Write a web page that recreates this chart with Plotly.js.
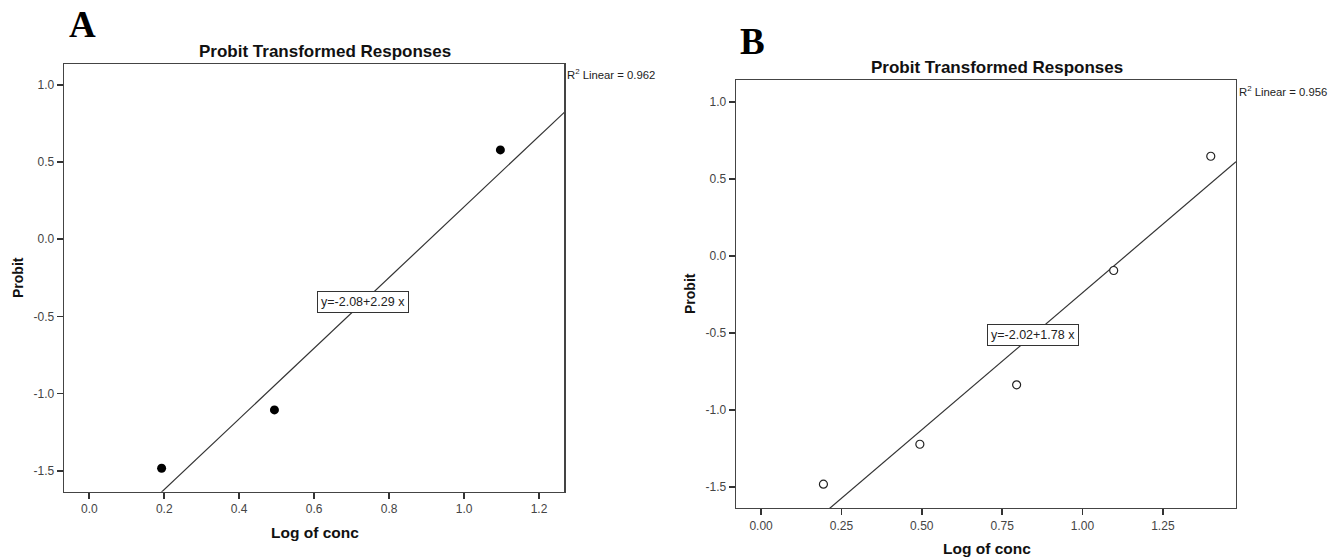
<!DOCTYPE html>
<html>
<head>
<meta charset="utf-8">
<script src="https://cdn.plot.ly/plotly-3.0.1.min.js"></script>
<style>html,body{margin:0;padding:0;background:#fff;}#chart{width:1339px;height:559px;}</style>
</head>
<body>
<div id="chart"></div>
<script>
// Panel A data
const logConcA = [0.193, 0.494, 1.097];
const probitA = [-1.484, -1.106, 0.579];
const interceptA = -2.08, slopeA = 2.29;
const r2A = "0.962";
// Panel B data
const logConcB = [0.194, 0.494, 0.795, 1.097, 1.399];
const probitB = [-1.483, -1.224, -0.838, -0.096, 0.646];
const interceptB = -2.02, slopeB = 1.78;
const r2B = "0.956";
// Axis tick values and labels
const xTicksA = [0.0, 0.2, 0.4, 0.6, 0.8, 1.0, 1.2];
const xLabelsA = ["0.0", "0.2", "0.4", "0.6", "0.8", "1.0", "1.2"];
const xTicksB = [0.0, 0.25, 0.5, 0.75, 1.0, 1.25];
const xLabelsB = ["0.00", "0.25", "0.50", "0.75", "1.00", "1.25"];
const yTicks = [-1.5, -1.0, -0.5, 0.0, 0.5, 1.0];
const yLabels = ["-1.5", "-1.0", "-0.5", "0.0", "0.5", "1.0"];

const chartTitle = "Probit Transformed Responses";
const xTitle = "Log of conc";
const yTitle = "Probit";

const xRangeA = [-0.0675, 1.2675], yRangeA = [-1.636, 1.134];
const xRangeB = [-0.078, 1.4775], yRangeB = [-1.638, 1.141];

const W = 1339, H = 559;
const px = v => v / W, py = v => 1 - v / H;

const lineCol = '#333';
const font = 'Arial, "Liberation Sans", sans-serif';

const traces = [
  {x: logConcA, y: probitA, mode: 'markers', type: 'scatter', xaxis: 'x', yaxis: 'y',
   marker: {size: 9, color: '#000', symbol: 'circle'}},
  {x: xRangeA, y: xRangeA.map(v => interceptA + slopeA * v), mode: 'lines', type: 'scatter', xaxis: 'x', yaxis: 'y',
   line: {color: lineCol, width: 1.2}},
  {x: xRangeB, y: xRangeB.map(v => interceptB + slopeB * v), mode: 'lines', type: 'scatter', xaxis: 'x2', yaxis: 'y2',
   line: {color: lineCol, width: 1.2}},
  {x: logConcB, y: probitB, mode: 'markers', type: 'scatter', xaxis: 'x2', yaxis: 'y2',
   marker: {size: 8, color: '#fff', symbol: 'circle', line: {color: '#222', width: 1.2}}}
];

function axis(domain, range, ticks, labels, anchor) {
  return {
    domain: domain, range: range, anchor: anchor,
    tickmode: 'array', tickvals: ticks, ticktext: labels,
    showgrid: false, zeroline: false,
    showline: true, mirror: true, linecolor: '#444', linewidth: 1.3,
    ticks: 'outside', ticklen: 6, tickwidth: 1.8, tickcolor: '#333',
    tickfont: {family: font, size: 12, color: '#444'}
  };
}

const ann = [];
function txt(x, y, text, opts) {
  ann.push(Object.assign({xref: 'paper', yref: 'paper', x: x, y: y, text: text, showarrow: false,
    xanchor: 'center', yanchor: 'middle', font: {family: font, size: 12, color: '#111'}}, opts || {}));
}
// Panel letters
txt(px(82), py(25), '<b>A</b>', {font: {family: '"Liberation Serif", "Times New Roman", serif', size: 37, color: '#000'}});
txt(px(753), py(41), '<b>B</b>', {font: {family: '"Liberation Serif", "Times New Roman", serif', size: 37, color: '#000'}});
// Titles
txt(px(325), py(51), '<b>' + chartTitle + '</b>', {font: {family: font, size: 17, color: '#111'}});
txt(px(997), py(67), '<b>' + chartTitle + '</b>', {font: {family: font, size: 17, color: '#111'}});
// Axis titles
txt(px(315), py(532), '<b>' + xTitle + '</b>', {font: {family: font, size: 15.5, color: '#111'}});
txt(px(987), py(548), '<b>' + xTitle + '</b>', {font: {family: font, size: 15.5, color: '#111'}});
txt(px(18), py(278), '<b>' + yTitle + '</b>', {textangle: -90, font: {family: font, size: 14, color: '#111'}});
txt(px(690), py(294), '<b>' + yTitle + '</b>', {textangle: -90, font: {family: font, size: 14, color: '#111'}});
// R^2
txt(px(565), py(74), 'R<sup>2</sup> Linear = ' + r2A, {xanchor: 'left', font: {family: font, size: 11.3, color: '#222'}});
txt(px(1237), py(91), 'R<sup>2</sup> Linear = ' + r2B, {xanchor: 'left', font: {family: font, size: 11.3, color: '#222'}});
// Equation boxes (data coords)
ann.push({xref: 'x', yref: 'y', x: 0.73, y: -0.405, showarrow: false,
  text: 'y=' + interceptA.toFixed(2) + '+' + slopeA.toFixed(2) + ' x',
  font: {family: font, size: 12.5, color: '#222'}, bgcolor: '#fff', bordercolor: '#333', borderwidth: 1, borderpad: 3});
ann.push({xref: 'x2', yref: 'y2', x: 0.846, y: -0.516, showarrow: false,
  text: 'y=' + interceptB.toFixed(2) + '+' + slopeB.toFixed(2) + ' x',
  font: {family: font, size: 12.5, color: '#222'}, bgcolor: '#fff', bordercolor: '#333', borderwidth: 1, borderpad: 3});

const layout = {
  width: W, height: H, margin: {l: 0, r: 0, t: 0, b: 0},
  paper_bgcolor: '#fff', plot_bgcolor: '#fff', showlegend: false,
  xaxis: axis([px(64), px(564.3)], xRangeA, xTicksA, xLabelsA, 'y'),
  yaxis: axis([py(491.7), py(64.3)], yRangeA, yTicks, yLabels, 'x'),
  xaxis2: axis([px(736), px(1236)], xRangeB, xTicksB, xLabelsB, 'y2'),
  yaxis2: axis([py(508), py(80)], yRangeB, yTicks, yLabels, 'x2'),
  annotations: ann
};

Plotly.newPlot('chart', traces, layout, {displayModeBar: false, staticPlot: true});
</script>
</body>
</html>
